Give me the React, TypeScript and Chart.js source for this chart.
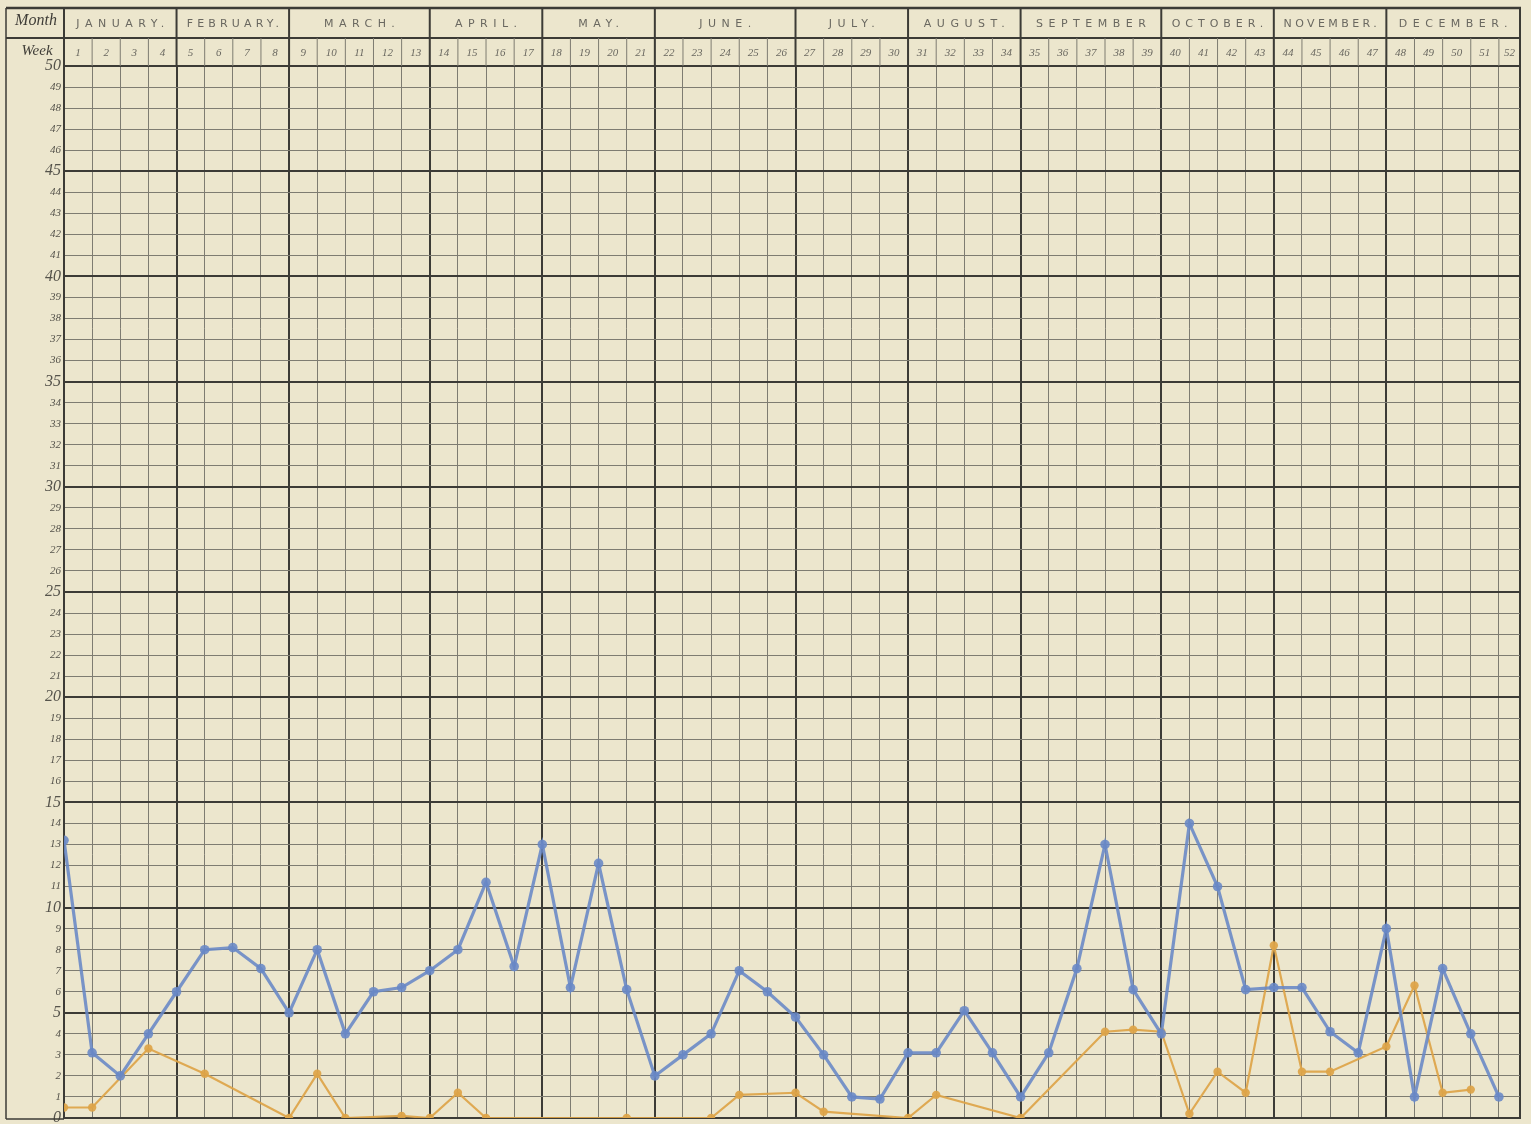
import React, { useEffect, useRef } from 'react';
import { Chart, registerables } from 'chart.js';

Chart.register(...registerables);

// ---------- data ----------
const weekLabels = [
  '1', '2', '3', '4', '5', '6', '7', '8', '9', '10', '11', '12', '13',
  '14', '15', '16', '17', '18', '19', '20', '21', '22', '23', '24', '25', '26',
  '27', '28', '29', '30', '31', '32', '33', '34', '35', '36', '37', '38', '39',
  '40', '41', '42', '43', '44', '45', '46', '47', '48', '49', '50', '51', '52',
];

const monthNames = [
  'JANUARY.', 'FEBRUARY.', 'MARCH.', 'APRIL.', 'MAY.', 'JUNE.',
  'JULY.', 'AUGUST.', 'SEPTEMBER', 'OCTOBER.', 'NOVEMBER.', 'DECEMBER.',
];
const monthFirstWeek = [1, 5, 9, 14, 18, 22, 27, 31, 35, 40, 44, 48];
const monthLastWeek = [4, 8, 13, 17, 21, 26, 30, 34, 39, 43, 47, 52];

const blueSeries = [
  13.2, 3.1, 2, 4, 6, 8, 8.1, 7.1, 5, 8, 4, 6, 6.2,
  7, 8, 11.2, 7.2, 13, 6.2, 12.1, 6.1, 2, 3, 4, 7, 6,
  4.8, 3, 1, 0.9, 3.1, 3.1, 5.1, 3.1, 1, 3.1, 7.1, 13, 6.1,
  4, 14, 11, 6.1, 6.2, 6.2, 4.1, 3.1, 9, 1, 7.1, 4, 1,
];

const orangeSeries: (number | null)[] = [
  0.5, 0.5, null, 3.3, null, 2.1, null, null, 0, 2.1, 0, null, 0.1,
  0, 1.2, 0, null, null, null, null, 0, null, null, 0, 1.1, null,
  1.2, 0.3, null, null, 0, 1.1, null, null, 0, null, null, 4.1, 4.2,
  4.1, 0.2, 2.2, 1.2, 8.2, 2.2, 2.2, null, 3.4, 6.3, 1.2, 1.35, null,
];

const yMin = 0;
const yMax = 50;
const xMax = 51.75; // right edge of the (narrower) week-52 column

// ---------- styles ----------
const BG = '#ece6cd';
const DARK = '#3c3b36';
const MINOR = '#7e7c71';
const BLUE = 'rgba(104,136,198,0.88)';
const ORANGE = 'rgba(221,164,72,0.92)';

function App() {
  const ref = useRef<HTMLCanvasElement>(null);

  useEffect(() => {
    const monthBoundaries = new Set<number>([0, ...monthLastWeek.map((w) => (w === 52 ? xMax : w))]);

    const headerPlugin = {
      id: 'paperHeader',
      beforeDraw(chart: any) {
        const { ctx, width, height } = chart;
        ctx.save();
        ctx.fillStyle = BG;
        ctx.fillRect(0, 0, width, height);
        ctx.restore();
      },
      afterDraw(chart: any) {
        const { ctx, chartArea } = chart;
        const xs = chart.scales.x;
        const px = (v: number) => xs.getPixelForValue(v);
        const L = 6;
        const T = 8;
        const M = 38;
        const B = chartArea.top;
        const R = chartArea.right;
        const bottom = chartArea.bottom;
        const seg = (x1: number, y1: number, x2: number, y2: number, w: number, c: string) => {
          ctx.beginPath();
          ctx.lineWidth = w;
          ctx.strokeStyle = c;
          ctx.moveTo(x1, y1);
          ctx.lineTo(x2, y2);
          ctx.stroke();
        };
        ctx.save();
        // frame
        seg(L, T, R + 1, T, 2.5, DARK);
        seg(L, M, R + 1, M, 2, DARK);
        seg(L, T, L, bottom + 1, 1.5, DARK);
        seg(L, bottom + 1, chartArea.left, bottom + 1, 1.5, DARK);
        seg(chartArea.left, T, chartArea.left, B, 2, DARK);
        seg(R, T, R, B, 2, DARK);
        // week boundaries in the week row
        for (let k = 1; k < weekLabels.length; k++) {
          seg(px(k), M, px(k), B, 1, MINOR);
        }
        // month boundaries through both rows
        monthLastWeek.forEach((w) => {
          const v = w === 52 ? xMax : w;
          seg(px(v), T, px(v), B, 2, DARK);
        });

        // "Month" / "Week"
        ctx.fillStyle = '#3f3d37';
        ctx.textBaseline = 'middle';
        ctx.textAlign = 'center';
        ctx.font = 'italic 16px "Liberation Serif"';
        ctx.fillText('Month', (L + chartArea.left) / 2 + 1, 21);
        ctx.font = 'italic 15px "Liberation Serif"';
        ctx.fillText('Week', (L + chartArea.left) / 2 + 2, 51);

        // month names (spaced capitals)
        ctx.fillStyle = '#6a6860';
        ctx.font = '11px "DejaVu Sans"';
        monthNames.forEach((name, i) => {
          const a = px(monthFirstWeek[i] - 1);
          const b = px(monthLastWeek[i] === 52 ? xMax : monthLastWeek[i]);
          (ctx as any).letterSpacing = '0px';
          const w = ctx.measureText(name).width;
          const sp = Math.max(1, Math.min(5.5, (b - a - 16 - w) / name.length));
          (ctx as any).letterSpacing = sp + 'px';
          ctx.fillText(name, (a + b) / 2 + sp / 2, (T + M) / 2 + 1);
        });
        (ctx as any).letterSpacing = '0px';

        // week numbers
        ctx.fillStyle = '#6a6860';
        ctx.font = 'italic 11px "Liberation Serif"';
        weekLabels.forEach((lab, i) => {
          const a = px(i);
          const b = px(i === weekLabels.length - 1 ? xMax : i + 1);
          ctx.fillText(lab, (a + b) / 2, (M + B) / 2 + 1);
        });
        ctx.restore();
      },
    };

    const chart = new Chart(ref.current as HTMLCanvasElement, {
      type: 'line',
      data: {
        datasets: [
          {
            label: 'Blue',
            data: blueSeries.map((v, i) => ({ x: i, y: v })),
            borderColor: BLUE,
            backgroundColor: BLUE,
            borderWidth: 3.2,
            pointRadius: 4.8,
            pointBorderWidth: 0,
            tension: 0,
          },
          {
            label: 'Orange',
            data: orangeSeries.map((v, i) => ({ x: i, y: v })),
            borderColor: ORANGE,
            backgroundColor: ORANGE,
            borderWidth: 2.2,
            pointRadius: 4.2,
            pointBorderWidth: 0,
            tension: 0,
            spanGaps: true,
          },
        ],
      },
      options: {
        animation: false,
        responsive: true,
        maintainAspectRatio: false,
        devicePixelRatio: 1,
        layout: { padding: { left: 6, top: 66, right: 11, bottom: 6 } },
        plugins: {
          legend: { display: false },
          tooltip: { enabled: false },
        },
        scales: {
          x: {
            type: 'linear',
            position: 'bottom',
            min: 0,
            max: xMax,
            afterBuildTicks: (axis: any) => {
              const t = weekLabels.map((_, i) => ({ value: i }));
              t.push({ value: xMax });
              axis.ticks = t;
            },
            afterFit: (s: any) => {
              s.height = 0;
              s.paddingLeft = 0;
              s.paddingRight = 0;
            },
            ticks: { display: false },
            grid: {
              drawTicks: false,
              color: (c: any) => (monthBoundaries.has(c.tick?.value) ? DARK : MINOR),
              lineWidth: (c: any) => (monthBoundaries.has(c.tick?.value) ? 2 : 1),
            },
            border: { display: true, color: DARK, width: 2 },
          },
          y: {
            type: 'linear',
            min: yMin,
            max: yMax,
            afterFit: (s: any) => {
              s.width = 58;
              s.paddingTop = 0;
              s.paddingBottom = 0;
            },
            ticks: {
              stepSize: 1,
              autoSkip: false,
              padding: 3,
              color: '#55534b',
              font: (c: any) =>
                c.tick && c.tick.value % 5 === 0
                  ? { family: '"Liberation Serif"', style: 'italic', size: 16 }
                  : { family: '"Liberation Serif"', style: 'italic', size: 11 },
              callback: (v: any) => String(v),
            },
            grid: {
              drawTicks: false,
              color: (c: any) => (c.tick && c.tick.value % 5 === 0 ? DARK : MINOR),
              lineWidth: (c: any) => (c.tick && c.tick.value % 5 === 0 ? 2 : 1),
            },
            border: { display: true, color: DARK, width: 2 },
          },
        },
      },
      plugins: [headerPlugin],
    } as any);

    return () => chart.destroy();
  }, []);

  return (
    <div style={{ position: 'absolute', left: 0, top: 0, width: 1531, height: 1124, background: BG }}>
      <canvas ref={ref} />
    </div>
  );
}

export default App;
